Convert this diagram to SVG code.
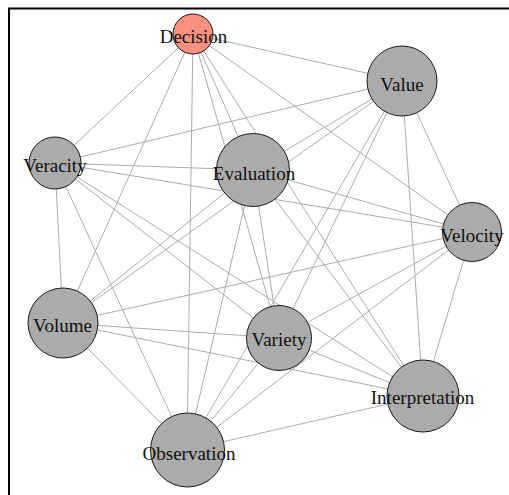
<svg xmlns="http://www.w3.org/2000/svg" width="509" height="495" viewBox="0 0 509 495">
<style>
.e{stroke:#acacac;stroke-width:1;fill:none}
.n{fill:#ababab;stroke:#1a1a1a;stroke-width:1}
.d{fill:#f7917f;stroke:#1a1a1a;stroke-width:1}
.t{font-family:"Liberation Serif","Times New Roman",serif;font-size:19px;fill:#111;text-anchor:middle}
</style>
<rect width="509" height="495" fill="#fff"/>
<path d="M9,495 V8.5 H509" fill="none" stroke="#000" stroke-width="2"/>
<g id="edges" class="e">
<line x1="193" y1="34" x2="402" y2="81"/>
<line x1="193" y1="34" x2="55" y2="163"/>
<line x1="193" y1="34" x2="253" y2="170"/>
<line x1="193" y1="34" x2="472" y2="232"/>
<line x1="193" y1="34" x2="63" y2="323"/>
<line x1="193" y1="34" x2="279" y2="338"/>
<line x1="193" y1="34" x2="423" y2="396"/>
<line x1="193" y1="34" x2="187" y2="450"/>
<line x1="402" y1="81" x2="55" y2="163"/>
<line x1="402" y1="81" x2="253" y2="170"/>
<line x1="402" y1="81" x2="472" y2="232"/>
<line x1="402" y1="81" x2="63" y2="323"/>
<line x1="402" y1="81" x2="279" y2="338"/>
<line x1="402" y1="81" x2="423" y2="396"/>
<line x1="402" y1="81" x2="187" y2="450"/>
<line x1="55" y1="163" x2="253" y2="170"/>
<line x1="55" y1="163" x2="472" y2="232"/>
<line x1="55" y1="163" x2="63" y2="323"/>
<line x1="55" y1="163" x2="279" y2="338"/>
<line x1="55" y1="163" x2="423" y2="396"/>
<line x1="55" y1="163" x2="187" y2="450"/>
<line x1="253" y1="170" x2="472" y2="232"/>
<line x1="253" y1="170" x2="63" y2="323"/>
<line x1="253" y1="170" x2="279" y2="338"/>
<line x1="253" y1="170" x2="423" y2="396"/>
<line x1="253" y1="170" x2="187" y2="450"/>
<line x1="472" y1="232" x2="63" y2="323"/>
<line x1="472" y1="232" x2="279" y2="338"/>
<line x1="472" y1="232" x2="423" y2="396"/>
<line x1="472" y1="232" x2="187" y2="450"/>
<line x1="63" y1="323" x2="279" y2="338"/>
<line x1="63" y1="323" x2="423" y2="396"/>
<line x1="63" y1="323" x2="187" y2="450"/>
<line x1="279" y1="338" x2="423" y2="396"/>
<line x1="279" y1="338" x2="187" y2="450"/>
<line x1="423" y1="396" x2="187" y2="450"/>
</g>
<g id="decision"><circle class="d" cx="193" cy="34" r="20"/><text class="t" x="193.5" y="43">Decision</text></g>
<g id="value"><circle class="n" cx="402" cy="81" r="35"/><text class="t" x="402" y="90.5">Value</text></g>
<g id="veracity"><circle class="n" cx="55" cy="163" r="26"/><text class="t" x="55" y="172">Veracity</text></g>
<g id="evaluation"><circle class="n" cx="253" cy="170" r="36.5"/><text class="t" x="254" y="180">Evaluation</text></g>
<g id="velocity"><circle class="n" cx="472" cy="232" r="29.5"/><text class="t" x="472" y="241.5">Velocity</text></g>
<g id="volume"><circle class="n" cx="63" cy="323" r="35"/><text class="t" x="62.5" y="332">Volume</text></g>
<g id="variety"><circle class="n" cx="279" cy="338" r="32.5"/><text class="t" x="279" y="346">Variety</text></g>
<g id="interpretation"><circle class="n" cx="423" cy="396" r="36"/><text class="t" x="422.5" y="403.5">Interpretation</text></g>
<g id="observation"><circle class="n" cx="187.5" cy="450" r="37"/><text class="t" x="189" y="460">Observation</text></g>
</svg>
